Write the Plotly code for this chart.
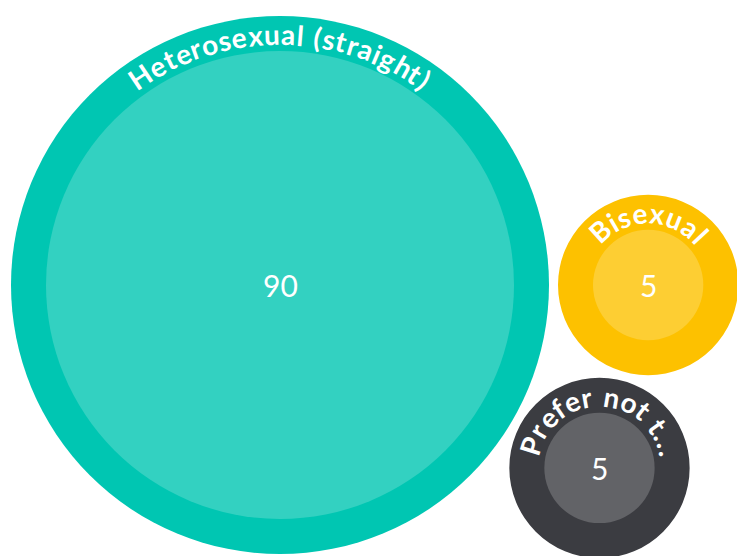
import math
import plotly.graph_objects as go

# ---- data ----
categories = ["Heterosexual (straight)", "Bisexual", "Prefer not to say"]
labels = ["Heterosexual (straight)", "Bisexual", "Prefer not t..."]
values = [90, 5, 5]
outer_colors = ["#00C6B2", "#FDC100", "#3B3C41"]
inner_colors = ["#33D1C1", "#FDCE33", "#626367"]

# ---- layout parameters ----
W, H = 737, 556
k = 234 / math.sqrt(max(values))   # inner radius scale (area proportional)
ring = 35                          # ring thickness
gap = 9
big_center = (280, 285)
FONT_LABEL = 28
SPACING = 1.0
FONT_VALUE = 30

inner_r = [k * math.sqrt(v) for v in values]
outer_r = [r + ring for r in inner_r]

# simple packing: big circle, second to its right, third tangent to both (below)
c0 = big_center
d01 = outer_r[0] + outer_r[1] + gap
c1 = (c0[0] + d01, c0[1])
d0 = outer_r[0] + outer_r[2] + gap
d1 = outer_r[1] + outer_r[2] + gap
D = d01
a = (d0**2 - d1**2 + D**2) / (2 * D)
h = math.sqrt(max(d0**2 - a**2, 0))
c2 = (c0[0] + a, c0[1] + h)
centers = [c0, c1, c2]

# approximate bold glyph advance widths (em)
CW = {
    "H": .74, "e": .53, "t": .36, "r": .38, "o": .56, "s": .43, "x": .52,
    "u": .56, "a": .51, "l": .26, " ": .24, "(": .31, ")": .31, "i": .26,
    "g": .51, "h": .56, "B": .64, "P": .61, "f": .33, "n": .56, ".": .24,
}

fig = go.Figure()
fig.add_trace(go.Scatter(x=[c[0] for c in centers], y=[c[1] for c in centers],
                         mode="markers", marker=dict(opacity=0), hoverinfo="skip",
                         showlegend=False))

shapes = []
annotations = []
for i, (cx, cy) in enumerate(centers):
    R, r = outer_r[i], inner_r[i]
    shapes.append(dict(type="circle", xref="x", yref="y", x0=cx - R, x1=cx + R,
                       y0=cy - R, y1=cy + R, fillcolor=outer_colors[i],
                       line=dict(width=0), layer="below"))
    shapes.append(dict(type="circle", xref="x", yref="y", x0=cx - r, x1=cx + r,
                       y0=cy - r, y1=cy + r, fillcolor=inner_colors[i],
                       line=dict(width=0), layer="below"))
    annotations.append(dict(x=cx, y=cy, xref="x", yref="y", text=str(values[i]),
                            showarrow=False,
                            font=dict(family="Lato", size=FONT_VALUE, color="white", weight=400)))
    # curved label
    text = labels[i]
    rb = r + 8                      # baseline radius
    rc = rb + 0.33 * FONT_LABEL     # glyph center radius
    widths = [CW.get(ch, .5) * FONT_LABEL for ch in text]
    total = sum(widths) + SPACING * (len(text) - 1)
    pos = -total / 2
    for ch, w in zip(text, widths):
        mid = pos + w / 2
        theta = mid / rb
        pos += w + SPACING
        if ch == " ":
            continue
        x = cx + rc * math.sin(theta)
        y = cy - rc * math.cos(theta)
        annotations.append(dict(x=x, y=y, xref="x", yref="y", text=ch, showarrow=False,
                                textangle=math.degrees(theta), xanchor="center", yanchor="middle",
                                font=dict(family="Lato", size=FONT_LABEL, color="white", weight=700)))

fig.update_layout(
    width=W, height=H, margin=dict(l=0, r=0, t=0, b=0),
    paper_bgcolor="white", plot_bgcolor="white",
    xaxis=dict(range=[0, W], visible=False, fixedrange=True),
    yaxis=dict(range=[H, 0], visible=False, fixedrange=True),
    shapes=shapes, annotations=annotations, showlegend=False,
)
fig.write_html("out.html", config={"displayModeBar": False},
               post_script="document.body.style.margin='0';")
